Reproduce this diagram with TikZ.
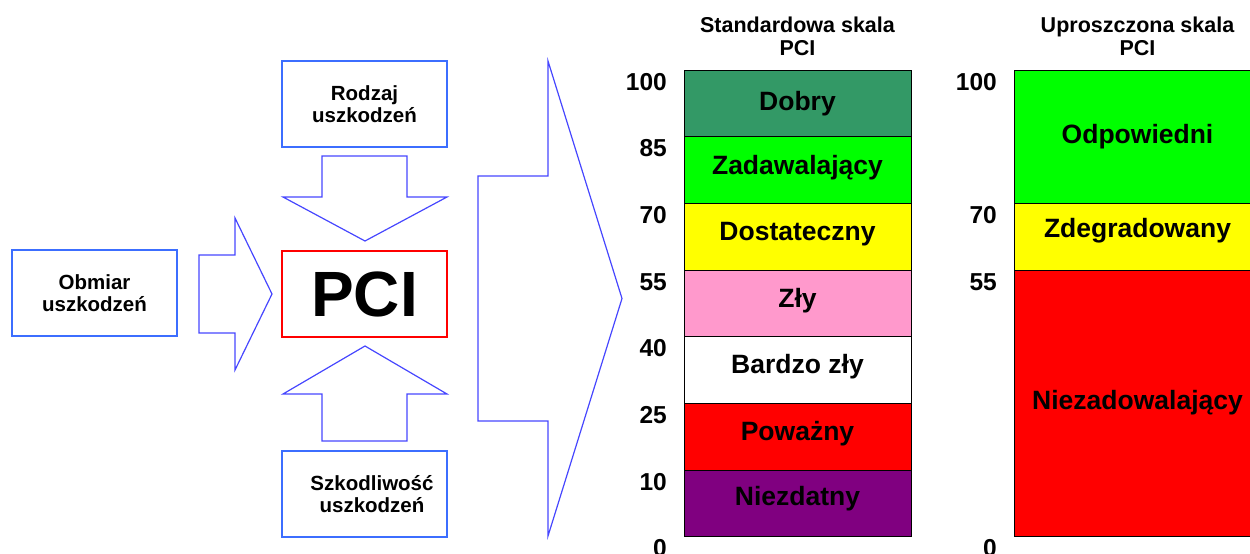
\documentclass[tikz,border=0pt]{standalone}
\usepackage{fontspec}
\setmainfont{Liberation Sans}
\definecolor{boxblue}{RGB}{60,110,255}
\definecolor{arrowblue}{RGB}{70,70,255}
\definecolor{pcired}{RGB}{255,0,0}
\definecolor{c-dobry}{RGB}{51,153,102}
\definecolor{c-green}{RGB}{0,255,0}
\definecolor{c-yellow}{RGB}{255,255,0}
\definecolor{c-pink}{RGB}{255,153,204}
\definecolor{c-red}{RGB}{255,0,0}
\definecolor{c-purple}{RGB}{128,0,128}
\begin{document}
\begin{tikzpicture}[x=1pt,y=-1pt,
  inbox/.style={draw=boxblue, line width=2.2pt, minimum width=165pt, minimum height=86pt,
    inner sep=0pt, align=center, font=\fontsize{20.5}{21.5}\selectfont\bfseries},
  blockarrow/.style={draw=arrowblue, line width=1.2pt, line join=miter},
  band/.style={draw=black, line width=0.8pt, inner sep=0pt, minimum height=66.67pt},
  stdband/.style={band, minimum width=227pt},
  simband/.style={band, minimum width=248pt},
  bandtext/.style={anchor=base, inner sep=0pt, font=\fontsize{26.5}{28}\selectfont\bfseries},
  tick/.style={anchor=base east, inner sep=0pt, font=\fontsize{24.5}{26}\selectfont\bfseries},
  scaletitle/.style={anchor=base, inner sep=0pt, align=center,
    font=\fontsize{21.5}{22.5}\selectfont\bfseries}]
\clip (0,0) rectangle (1250,554);

% input boxes and the central PCI box
\node[inbox] (rodzaj) at (364.5,104) {Rodzaj\\uszkodzeń};
\node[inbox] (obmiar) at (94.5,293) {Obmiar\\uszkodzeń};
\node[inbox, draw=pcired, line width=2pt, font=\fontsize{64}{66}\selectfont\bfseries] (pci) at (364.5,294) {PCI};
\node[inbox] (szkod) at (364.5,494) {\hspace*{15pt}Szkodliwość\\\hspace*{15pt}uszkodzeń};

% block arrows pointing into the PCI box
\draw[blockarrow] (322,156) -- (407,156) -- (407,197) -- (447,197) -- (365,241)
  -- (283,197) -- (322,197) -- cycle;
\draw[blockarrow] (322,441) -- (407,441) -- (407,394) -- (447,394) -- (365,346)
  -- (283,394) -- (322,394) -- cycle;
\draw[blockarrow] (199,255) -- (235,255) -- (235,218) -- (272,294) -- (235,370)
  -- (235,333) -- (199,333) -- cycle;

% large arrow towards the rating scales
\draw[blockarrow] (478,176) -- (548,176) -- (548,61) -- (622,298.5) -- (548,536)
  -- (548,421) -- (478,421) -- cycle;

% standard PCI scale
\node[scaletitle] (stdtitle) at (797.5,55) {Standardowa skala\\PCI};
\node[stdband, fill=c-dobry]  (s1) at (797.5,103.33) {};
\node[stdband, fill=c-green]  (s2) at (797.5,170.00) {};
\node[stdband, fill=c-yellow] (s3) at (797.5,236.67) {};
\node[stdband, fill=c-pink]   (s4) at (797.5,303.33) {};
\node[stdband, fill=white]    (s5) at (797.5,370.00) {};
\node[stdband, fill=c-red]    (s6) at (797.5,436.67) {};
\node[stdband, fill=c-purple] (s7) at (797.5,503.33) {};
\node[bandtext] (t1) at (797.5,110) {Dobry};
\node[bandtext] (t2) at (797.5,174) {Zadawalający};
\node[bandtext] (t3) at (797.5,240) {Dostateczny};
\node[bandtext] (t4) at (797.5,307) {Zły};
\node[bandtext] (t5) at (797.5,373) {Bardzo zły};
\node[bandtext] (t6) at (797.5,440) {Poważny};
\node[bandtext] (t7) at (797.5,505) {Niezdatny};
\foreach \v/\y in {100/90, 85/156.7, 70/223.3, 55/290, 40/356.7, 25/423.3, 10/490, 0/556.7}
  \node[tick] (sv\v) at (667,\y) {\v};

% simplified PCI scale
\node[scaletitle] (simtitle) at (1137.5,55) {Uproszczona skala\\PCI};
\node[simband, minimum height=133.33pt, fill=c-green] (u1) at (1138,136.67) {};
\node[simband, fill=c-yellow] (u2) at (1138,236.67) {};
\node[simband, minimum height=266.67pt, fill=c-red] (u3) at (1138,403.33) {};
\node[bandtext] (v1) at (1137.5,143) {Odpowiedni};
\node[bandtext] (v2) at (1137.5,237.5) {Zdegradowany};
\node[bandtext] (v3) at (1137.5,409) {Niezadowalający};
\foreach \v/\y in {100/90, 70/223.3, 55/290, 0/556.7}
  \node[tick] (uv\v) at (997,\y) {\v};
\end{tikzpicture}
\end{document}
